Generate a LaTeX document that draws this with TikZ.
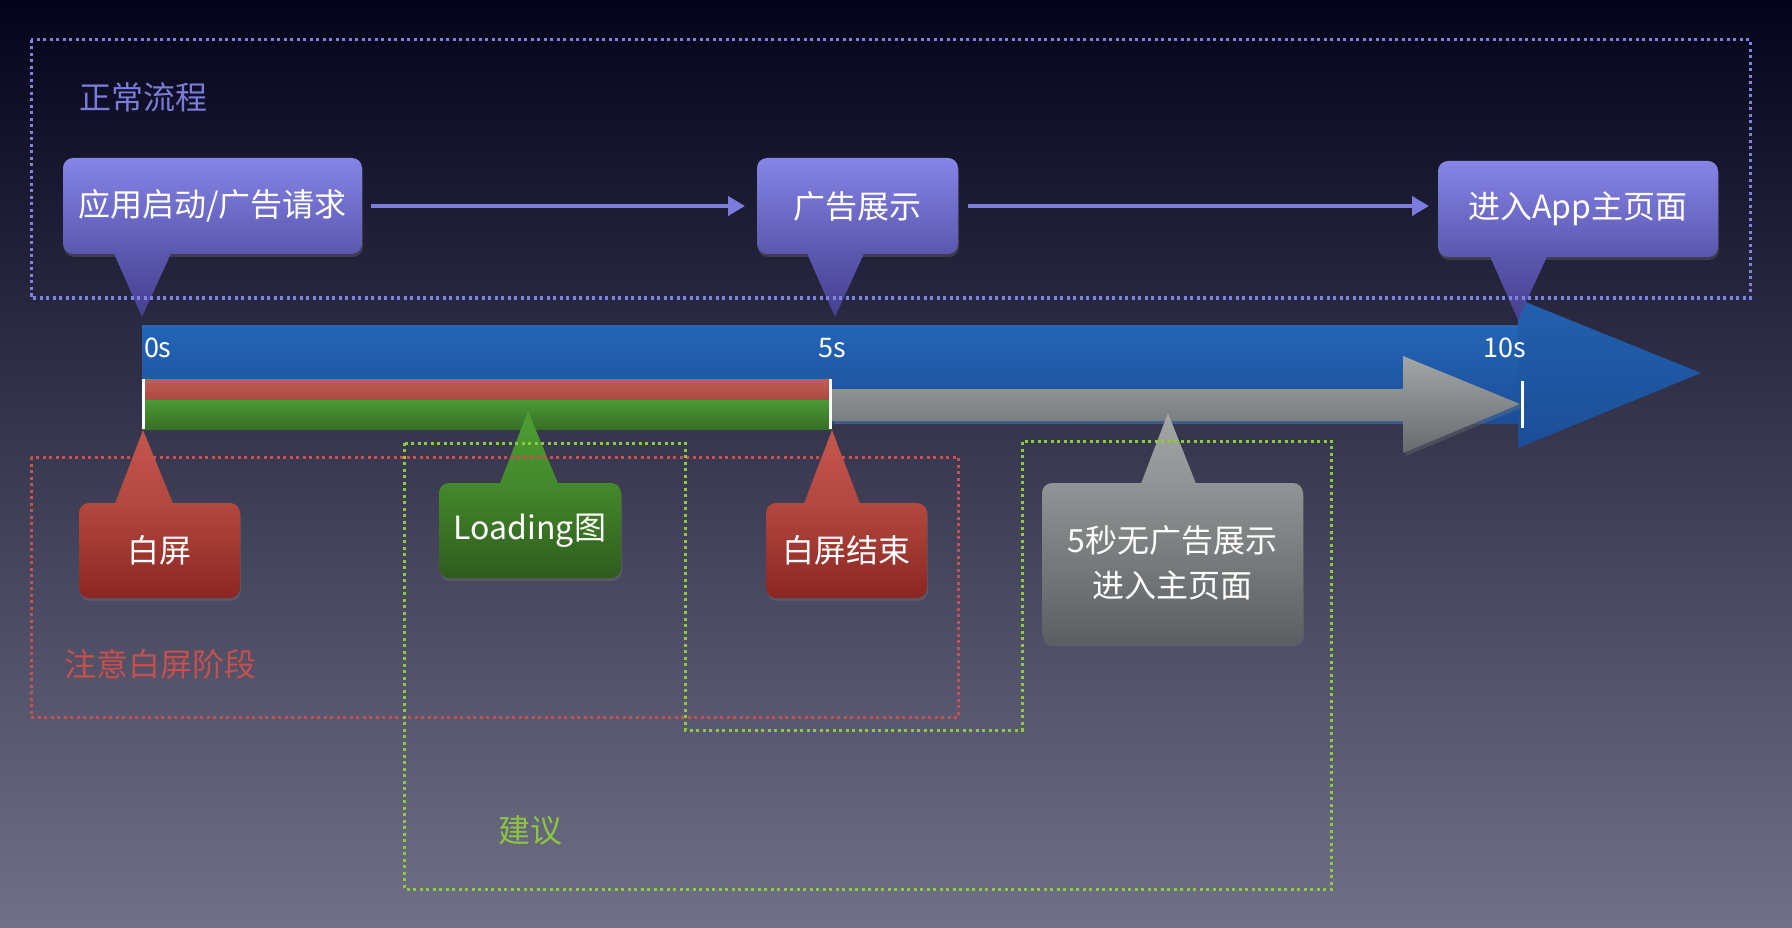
\documentclass[tikz,border=0pt]{standalone}
\usepackage{fontspec}
\setmainfont{Noto Sans CJK SC}
\usetikzlibrary{arrows.meta,shadows,calc}
\definecolor{bgTop}{HTML}{03031A}
\definecolor{bgMid}{HTML}{363654}
\definecolor{bgBot}{HTML}{707088}
\definecolor{pTop}{HTML}{8685E8}
\definecolor{pBot}{HTML}{5A57AE}
\definecolor{pTip}{HTML}{463F8E}
\definecolor{pLine}{HTML}{7B7BE0}
\definecolor{rTip}{HTML}{C4564F}
\definecolor{rTop}{HTML}{B3483F}
\definecolor{rBot}{HTML}{8B2622}
\definecolor{gTip}{HTML}{4C9E34}
\definecolor{gTop}{HTML}{44892C}
\definecolor{gBot}{HTML}{2F5C1D}
\definecolor{yTip}{HTML}{A4A6A6}
\definecolor{yTop}{HTML}{909494}
\definecolor{yBot}{HTML}{5C5F62}
\definecolor{blTop}{HTML}{2465B7}
\definecolor{blBot}{HTML}{1C4E97}
\definecolor{rbTop}{HTML}{C45C52}
\definecolor{rbBot}{HTML}{A94A43}
\definecolor{gbTop}{HTML}{4A9A36}
\definecolor{gbBot}{HTML}{386E24}
\definecolor{yaTop}{HTML}{A2A6A6}
\definecolor{yaBot}{HTML}{676B6F}
\definecolor{frBlue}{HTML}{8080E6}
\definecolor{frRed}{HTML}{C9504E}
\definecolor{frGreen}{HTML}{8CCC3C}
\definecolor{lbBlue}{HTML}{7B7BDA}
\definecolor{lbRed}{HTML}{C4504D}
\definecolor{lbGreen}{HTML}{8CC63F}
\begin{document}
\begin{tikzpicture}[x=1pt,y=-1pt,
  every node/.style={inner sep=0pt,outer sep=0pt},
  callout/.style={rounded corners=10pt,text=white,align=center,
    font=\fontsize{32}{45}\selectfont,
    drop shadow={opacity=0.3,shadow xshift=1pt,shadow yshift=-3pt}},
  purplebox/.style={callout,top color=pTop,bottom color=pBot},
  redbox/.style={callout,top color=rTop,bottom color=rBot},
  greenbox/.style={callout,top color=gTop,bottom color=gBot},
  greybox/.style={callout,top color=yTop,bottom color=yBot},
  flowarrow/.style={draw=pLine,line width=4pt,-{Triangle[length=17pt,width=19pt]}},
  frame/.style={line width=3pt,dash pattern=on 3pt off 3.5pt},
  timelabel/.style={text=white,font=\fontsize{27}{30}\selectfont},
  framelabel/.style={font=\fontsize{32}{36}\selectfont}]
\useasboundingbox (0,0) rectangle (1792,928);
% background
\shade[top color=bgTop,middle color=bgMid,bottom color=bgBot] (0,0) rectangle (1792,928);

% timeline
\shade[top color=blTop,bottom color=blBot] (142,325) rectangle (1520,423);
\shade[top color=blTop!95!black,bottom color=blBot] (1518,299) -- (1701,373) -- (1518,448) -- cycle;
\shade[top color=rbTop,bottom color=rbBot] (142,379) rectangle (832,400);
\shade[top color=gbTop,bottom color=gbBot] (142,400) rectangle (832,429);
\shade[top color=yaTop,bottom color=yaBot,drop shadow={opacity=0.3,shadow yshift=-3pt}]
  (832,389) -- (1403,389) -- (1403,356) -- (1520,404) -- (1403,453) -- (1403,421) -- (832,421) -- cycle;
\draw[white,line width=3pt] (143.5,379) -- (143.5,429);
\draw[white,line width=3pt] (830.5,379) -- (830.5,429);
\draw[white,line width=3pt] (1522,381) -- (1522,428);
\node[timelabel,anchor=west] (l0) at (144,348) {0s};
\node[timelabel] (l5) at (832,348) {5s};
\node[timelabel] (l10) at (1505,348) {10s};

% top callouts
\node[purplebox,minimum width=299pt,minimum height=96pt] (b1) at (212.5,206) {应用启动/广告请求};
\node[purplebox,minimum width=201pt,minimum height=96pt] (b2) at (857.5,206) {广告展示};
\node[purplebox,minimum width=280pt,minimum height=96pt] (b3) at (1578,209) {进入App主页面};
\coordinate (t1) at (142,317);
\coordinate (t2) at (835,317);
\coordinate (t3) at (1518,320);
\foreach \b/\t in {b1/t1,b2/t2,b3/t3}{
  \shade[top color=pBot,bottom color=pTip]
    ($(\b.south -| \t)+(-28,-0.5)$) -- (\t) -- ($(\b.south -| \t)+(29,-0.5)$) -- cycle;
}
\draw[flowarrow,shorten <=9pt,shorten >=12pt] (b1.east) -- (b2.west);
\draw[flowarrow,shorten <=10pt,shorten >=9pt] (b2.east) -- (b2.east -| b3.west);

% bottom callouts
\node[redbox,minimum width=161pt,minimum height=95pt] (w1) at (159.5,550.5) {白屏};
\node[greenbox,minimum width=182pt,minimum height=95pt] (ld) at (530,530.5) {Loading图};
\node[redbox,minimum width=161pt,minimum height=95pt] (w2) at (846.5,550.5) {白屏结束};
\node[greybox,minimum width=261pt,minimum height=160pt] (g1) at (1172.5,563) {5秒无广告展示\\进入主页面};
\coordinate (tw1) at (143,430);
\coordinate (tld) at (528,411);
\coordinate (tw2) at (832,430);
\coordinate (tg) at (1168,413);
\shade[top color=rTip,bottom color=rTop] ($(w1.north -| tw1)+(-28,0.5)$) -- (tw1) -- ($(w1.north -| tw1)+(30,0.5)$) -- cycle;
\shade[top color=gTip,bottom color=gTop] ($(ld.north -| tld)+(-28,0.5)$) -- (tld) -- ($(ld.north -| tld)+(30,0.5)$) -- cycle;
\shade[top color=rTip,bottom color=rTop] ($(w2.north -| tw2)+(-28,0.5)$) -- (tw2) -- ($(w2.north -| tw2)+(28,0.5)$) -- cycle;
\shade[top color=yTip,bottom color=yTop] ($(g1.north -| tg)+(-27,0.5)$) -- (tg) -- ($(g1.north -| tg)+(28,0.5)$) -- cycle;

% frames
\draw[frame,frBlue] (31,40) rectangle (1750,298);
\draw[frame,frRed] (31,457) rectangle (958,717);
\draw[frame,frGreen] (404.5,443) -- (685,443) -- (685,730) -- (1022,730) -- (1022,441) -- (1331.5,441) -- (1331.5,889) -- (404.5,889) -- cycle;
\node[framelabel,text=lbBlue] (lab1) at (143,97) {正常流程};
\node[framelabel,text=lbRed] (lab2) at (160,664) {注意白屏阶段};
\node[framelabel,text=lbGreen] (lab3) at (530,830) {建议};
\end{tikzpicture}
\end{document}
